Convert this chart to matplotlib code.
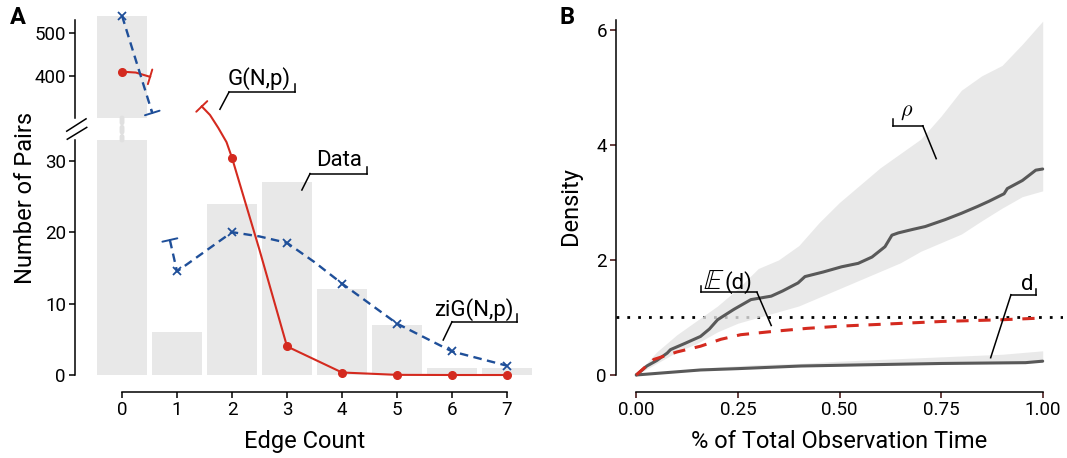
import matplotlib
matplotlib.use('Agg')
import matplotlib.pyplot as plt
from matplotlib.patches import ConnectionPatch, ArrowStyle

plt.rcParams['font.family'] = ['Roboto', 'DejaVu Sans']

# ---------------- Panel A data ----------------
edge_counts = [0, 1, 2, 3, 4, 5, 6, 7]
pairs = [539, 6, 24, 27, 12, 7, 1, 1]

# G(N,p) curve (red), upper part near count 0 and lower part from ~1.45 on
gnp_up_x = [0, 0.25, 0.51]
gnp_up_y = [410, 408, 398]
gnp_lo_x = [1.45, 1.6, 1.75, 1.9, 2, 2.5, 3, 4, 5, 6, 7]
gnp_lo_y = [37.6, 36.4, 34.6, 32.6, 30.4, 17.5, 4.0, 0.35, 0.02, 0, 0]
gnp_pt_x = [2, 3, 4, 5, 6, 7]
gnp_pt_y = [30.4, 4.0, 0.35, 0.02, 0, 0]
gnp_pt0 = 410

# ziG(N,p) curve (blue)
zig_up_x = [0, 0.55]
zig_up_y = [540, 314]
zig_lo_x = [0.87, 1, 2, 2.5, 3, 3.5, 4, 5, 6, 7]
zig_lo_y = [18.9, 14.5, 20, 19.4, 18.5, 15.8, 12.8, 7.2, 3.3, 1.3]
zig_pt_x = [1, 2, 3, 4, 5, 6, 7]
zig_pt_y = [14.5, 20, 18.5, 12.8, 7.2, 3.3, 1.3]
zig_pt0 = 540

# ---------------- Panel B data ----------------
band_x = [0, 0.05, 0.1, 0.15, 0.2, 0.25, 0.3, 0.35, 0.4, 0.45, 0.5,
          0.55, 0.6, 0.65, 0.7, 0.75, 0.8, 0.85, 0.9, 0.95, 1.0]
rho_hi = [0, 0.4, 0.7, 0.95, 1.2, 1.5, 1.85, 2.0, 2.25, 2.65, 3.0,
          3.3, 3.6, 3.85, 4.1, 4.5, 4.95, 5.2, 5.38, 5.75, 6.15]
rho_lo = [0, 0.2, 0.4, 0.55, 0.75, 0.9, 1.0, 1.1, 1.2, 1.35, 1.5,
          1.65, 1.8, 1.95, 2.15, 2.3, 2.45, 2.68, 2.9, 3.1, 3.2]
rho_x = [0, 0.026, 0.05, 0.076, 0.084, 0.12, 0.158, 0.18, 0.2, 0.24, 0.282,
         0.332, 0.36, 0.398, 0.415, 0.46, 0.505, 0.546, 0.58, 0.612, 0.629,
         0.645, 0.68, 0.711, 0.76, 0.80, 0.84, 0.868, 0.905, 0.913, 0.95, 0.983, 1.0]
rho_y = [0, 0.156, 0.25, 0.38, 0.44, 0.55, 0.67, 0.8, 0.96, 1.14, 1.31,
         1.37, 1.46, 1.6, 1.71, 1.79, 1.88, 1.94, 2.05, 2.23, 2.43,
         2.47, 2.53, 2.58, 2.7, 2.81, 2.93, 3.02, 3.15, 3.24, 3.38, 3.56, 3.58]

dband_x = [0, 0.1, 0.2, 0.3, 0.4, 0.5, 0.6, 0.7, 0.8, 0.9, 1.0]
d_lo = [0, 0.05, 0.1, 0.12, 0.15, 0.16, 0.18, 0.19, 0.2, 0.21, 0.22]
d_hi = [0, 0.08, 0.14, 0.18, 0.2, 0.24, 0.27, 0.3, 0.33, 0.36, 0.42]
d_x = [0, 0.158, 0.25, 0.406, 0.55, 0.752, 0.9, 0.958, 1.0]
d_y = [0, 0.087, 0.11, 0.156, 0.175, 0.2, 0.21, 0.214, 0.24]

ed_x = [0, 0.043, 0.1, 0.158, 0.208, 0.257, 0.34, 0.42, 0.505, 0.6, 0.752, 0.9, 1.0]
ed_y = [0, 0.27, 0.4, 0.5, 0.62, 0.70, 0.76, 0.81, 0.85, 0.88, 0.93, 0.96, 0.99]

RED = '#d42a1f'
BLUE = '#1f4f99'
BAR = '#e8e8e8'
DARK = '#595959'
TICKB = '#3d0a0a'

W, H = 1067, 458
fig = plt.figure(figsize=(W / 100, H / 100), dpi=100)


def rect(l, t, r, b):
    return [l / W, 1 - b / H, (r - l) / W, (b - t) / H]


axU = fig.add_axes(rect(75, 16, 534.5, 118))
axL = fig.add_axes(rect(75, 140, 534.5, 392))
axB = fig.add_axes(rect(616, 20, 1063, 392))

TICK_FS = 13.5
LAB_FS = 17
ANN_FS = 16

for ax in (axU, axL, axB):
    for s in ('top', 'right'):
        ax.spines[s].set_visible(False)
    for s in ('left', 'bottom'):
        ax.spines[s].set_linewidth(1.1)
    ax.tick_params(labelsize=TICK_FS, width=1.1, length=4.5, pad=2)
    ax.set_facecolor('none')

# ---- Panel A ----
xl = (-0.855, 7.5)
for ax in (axU, axL):
    ax.bar(edge_counts, pairs, width=0.9, color=BAR, zorder=1)
    ax.set_xlim(*xl)

axU.set_ylim(302.3, 539.5)
axU.spines['bottom'].set_visible(False)
axU.spines['left'].set_bounds(302.3, 530)
axU.set_xticks([])
axU.set_yticks([400, 500])

axL.set_ylim(-2.38, 32.9)
axL.spines['left'].set_bounds(0, 32.9)
axL.spines['bottom'].set_bounds(0, 7)
axL.set_yticks([0, 10, 20, 30])
axL.set_xticks(edge_counts)
axL.set_xlabel('Edge Count', fontsize=LAB_FS, labelpad=8)
axL.set_ylabel('Number of Pairs', fontsize=LAB_FS)
axL.yaxis.set_label_coords(-0.083, 0.77)

# red G(N,p)
axU.plot(gnp_up_x, gnp_up_y, color=RED, lw=1.5, zorder=3, clip_on=False)
axU.plot([0], [gnp_pt0], 'o', color=RED, ms=5.5, zorder=4, clip_on=False)
axL.plot(gnp_lo_x, gnp_lo_y, color=RED, lw=1.5, zorder=3, clip_on=False)
axL.plot(gnp_pt_x, gnp_pt_y, 'o', color=RED, ms=5.5, zorder=4, clip_on=False)

# blue ziG(N,p)
dash = (3.6, 2.3)
axU.plot(zig_up_x, zig_up_y, color=BLUE, lw=1.7, dashes=dash, zorder=3, clip_on=False)
axU.plot([0], [zig_pt0], 'x', color=BLUE, ms=6, mew=1.3, zorder=4, clip_on=False)
axL.plot(zig_lo_x, zig_lo_y, color=BLUE, lw=1.7, dashes=dash, zorder=3, clip_on=False)
axL.plot(zig_pt_x, zig_pt_y, 'x', color=BLUE, ms=6, mew=1.3, zorder=4, clip_on=False)


def cap(ax, xs, ys, end, color, lw):
    # small perpendicular bar at a truncated end of a curve
    if end == 'last':
        p1, p0 = (xs[-1], ys[-1]), (xs[-2], ys[-2])
    else:
        p1, p0 = (xs[0], ys[0]), (xs[1], ys[1])
    f = 0.03
    p0 = (p1[0] + (p0[0] - p1[0]) * f, p1[1] + (p0[1] - p1[1]) * f)
    ax.annotate('', xy=p1, xytext=p0,
                arrowprops=dict(arrowstyle=ArrowStyle('-[', widthB=0.55, lengthB=0.0),
                                color=color, lw=lw, shrinkA=0, shrinkB=0),
                annotation_clip=False, zorder=5)


cap(axU, gnp_up_x, gnp_up_y, 'last', RED, 1.4)
cap(axL, gnp_lo_x, gnp_lo_y, 'first', RED, 1.4)
cap(axU, zig_up_x, zig_up_y, 'last', BLUE, 1.4)
cap(axL, zig_lo_x, zig_lo_y, 'first', BLUE, 1.4)

# dotted connector of the broken bar 0
con = ConnectionPatch(xyA=(0, 302.3), coordsA=axU.transData,
                      xyB=(0, 32.9), coordsB=axL.transData,
                      color='#e0e0e0', lw=3.5, linestyle=(0, (1.0, 0.9)))
fig.add_artist(con)

# axis break marks
for (x0, y0, x1, y1) in [(-0.018, 1.035, 0.024, 1.084), (-0.0168, 1.003, 0.0255, 1.05)]:
    axL.plot([x0, x1], [y0, y1], transform=axL.transAxes, color='black',
             lw=1.1, clip_on=False)


def callout(ax, text, tx, ty, ux0, ux1, uy, tick_x, tick_top, lead_x, lead_end,
            fs=ANN_FS, **kw):
    if text is not None:
        ax.text(tx, ty, text, ha='center', va='center', fontsize=fs, zorder=6,
                clip_on=False, **kw)
    ax.plot([ux0, ux1], [uy, uy], color='black', lw=1.1, clip_on=False, zorder=6)
    ax.plot([tick_x, tick_x], [uy, tick_top], color='black', lw=1.1,
            clip_on=False, zorder=6)
    ax.plot([lead_x, lead_end[0]], [uy, lead_end[1]], color='black', lw=1.1,
            clip_on=False, zorder=6)


callout(axL, 'G(N,p)', 2.49, 41.5, 1.945, 3.145, 39.6, 3.145, 40.8, 1.945, (1.78, 37.2))
callout(axL, 'Data', 3.945, 30.1, 3.42, 4.45, 28.2, 4.45, 29.1, 3.42, (3.27, 25.9))
callout(axL, 'ziG(N,p)', 6.4, 9.1, 6.0, 7.19, 7.45, 7.19, 8.6, 6.0, (5.84, 4.9))

# ---- Panel B ----
axB.set_xlim(-0.05, 1.05)
axB.set_ylim(-0.296, 6.17)
axB.spines['left'].set_bounds(0, 6.17)
axB.spines['bottom'].set_bounds(0, 1)
axB.set_xticks([0, 0.25, 0.5, 0.75, 1.0])
axB.set_xticklabels(['0.00', '0.25', '0.50', '0.75', '1.00'])
axB.set_yticks([0, 2, 4, 6])
axB.tick_params(color=TICKB)
axB.set_xlabel('% of Total Observation Time', fontsize=LAB_FS, labelpad=8)
axB.set_ylabel('Density', fontsize=LAB_FS, labelpad=10)

axB.axhline(1.0, color='black', lw=2.0, linestyle=(0, (1, 2.9)), zorder=1)
axB.fill_between(band_x, rho_lo, rho_hi, color='#e4e4e4', alpha=0.8, lw=0, zorder=2)
axB.fill_between(dband_x, d_lo, d_hi, color='#e4e4e4', alpha=0.8, lw=0, zorder=2)
axB.plot(rho_x, rho_y, color=DARK, lw=2.2, zorder=3, solid_capstyle='round')
axB.plot(d_x, d_y, color=DARK, lw=2.2, zorder=3, solid_capstyle='round')
axB.plot(ed_x, ed_y, color=RED, lw=2.2, dashes=(4, 3.2), zorder=4)

callout(axB, r'$\rho$', 0.666, 4.58, 0.631, 0.705, 4.33, 0.631, 4.45, 0.705,
        (0.738, 3.76), fs=ANN_FS, math_fontfamily='cm')
# E(d): blackboard E plus "(d)"
callout(axB, None, 0, 0, 0.16, 0.297, 1.435, 0.16, 1.54, 0.297, (0.332, 0.86))
axB.text(0.216, 1.5, r'$\mathbb{E}$', ha='right', va='baseline', fontsize=21,
         math_fontfamily='stix', zorder=6)
axB.text(0.216, 1.5, '(d)', ha='left', va='baseline', fontsize=ANN_FS, zorder=6)
callout(axB, 'd', 0.963, 1.57, 0.922, 0.983, 1.395, 0.983, 1.49, 0.922,
        (0.872, 0.30), fs=ANN_FS)

# panel letters
fig.text(18 / W, 1 - 18 / H, 'A', fontsize=17, fontweight='bold', ha='center', va='center')
fig.text(567 / W, 1 - 18 / H, 'B', fontsize=17, fontweight='bold', ha='center', va='center')

fig.savefig('out.png', dpi=100)
